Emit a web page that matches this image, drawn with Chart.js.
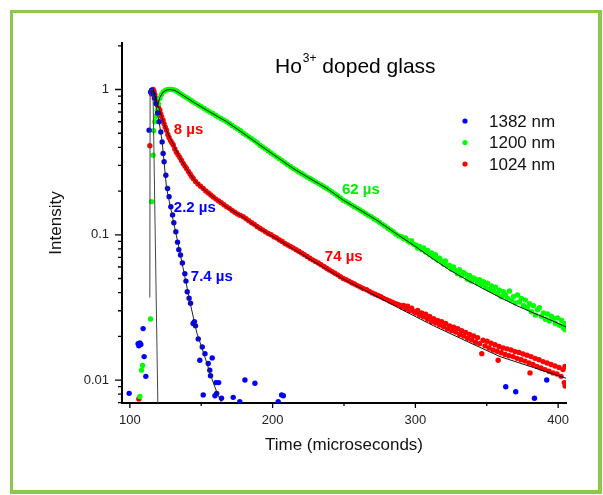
<!DOCTYPE html>
<html>
<head>
<meta charset="utf-8">
<script src="https://cdn.jsdelivr.net/npm/chart.js@4.4.0/dist/chart.umd.min.js"></script>
<style>
  html, body { margin: 0; padding: 0; background: #fff; }
  #frame { position: absolute; left: 10px; top: 10px; width: 592px; height: 484px; box-sizing: border-box;
           border: 3px solid #8cc84b; border-right-width: 4px; border-bottom-width: 4px; }
  #wrap { position: absolute; left: 0; top: 0; width: 603px; height: 495px; }
</style>
</head>
<body>
<div id="frame"></div>
<div id="wrap"><canvas id="decay"></canvas></div>
<script>
// ticks
var xTicks = [100, 150, 200, 250, 300, 350, 400];
var xLabels = [100, 200, 300, 400];
var yTicks = [0.007, 0.008, 0.009, 0.01, 0.02, 0.03, 0.04, 0.05, 0.06, 0.07, 0.08, 0.09,
              0.1, 0.2, 0.3, 0.4, 0.5, 0.6, 0.7, 0.8, 0.9, 1, 2];
var yLabels = [0.01, 0.1, 1];

// measured points [time, intensity]
var blue1382 = [[99.5,0.0081],[105.8,0.0178],[106.3,0.0172],[107,0.018],[107.7,0.0176],[109.3,0.0226],
  [110,0.0145],[111.2,0.0106],[113.5,0.525],[114.5,0.96],[115.2,0.99],[116.3,0.94],[117.2,0.87],
  [118.2,0.8],[119.4,0.69],[120.5,0.6],[121.7,0.51],[122.6,0.436],[123.3,0.363],[124,0.318],
  [125.2,0.257],[126.4,0.208],[127.5,0.183],[128.7,0.156],[129.9,0.137],[130.8,0.121],[132.2,0.105],
  [133.4,0.089],[134.3,0.079],[135.5,0.0725],[136.8,0.064],[138.5,0.054],[139.3,0.048],[140.2,0.0405],
  [141.5,0.0366],[142.5,0.0338],[144.3,0.0245],[145.2,0.0252],[146,0.0236],[147.9,0.0192],[149,0.0137],
  [150.7,0.0169],[151.4,0.0079],[152.6,0.0152],[154.9,0.013],[156,0.0117],[156.5,0.0107],[157.7,0.0142],
  [159.6,0.0078],[160.3,0.0096],[160.8,0.0081],[162.2,0.0096],[164.2,0.0075],[172.4,0.0076],[177,0.0071],
  [180.6,0.01],[187.6,0.0095],[203.9,0.0071],[206.3,0.0079],[207.5,0.0078],[363.3,0.009],[370.3,0.0083],
  [383.4,0.0075],[392,0.01]];

var green1200 = [[107,0.0077],[108.2,0.0117],[108.9,0.0126],[114.5,0.0263],[115.2,0.169],[116.3,0.353],
  [116.7,0.52],[117.5,0.6],[118.2,0.655],[119.2,0.72],[120,0.8],[121,0.87],[122,0.92],[123.3,0.96],
  [124.5,0.98],[126,0.995],[127.5,1.0],[129,1.0],[130.5,0.995],[132,0.985],[133.5,0.965],[135,0.94],
  [136.5,0.92],[138,0.9],[139.7,0.88],[141.3,0.86],[142.9,0.84],[144.4,0.82],[146.3,0.8],[148.2,0.78],
  [150.1,0.76],[152.1,0.74],[154,0.72],[156,0.7],[158,0.683],[160,0.665],[161.9,0.648],[163.9,0.632],
  [165.8,0.616],[167.8,0.6],[169.7,0.583],[171.6,0.566],[173.6,0.55],[175.5,0.535],[177.5,0.52],
  [179.4,0.5],[181.4,0.486],[183.3,0.472],[185.3,0.458],[187.2,0.445],[189.2,0.43],[191.1,0.414],
  [193,0.402],[195,0.39],[197,0.378],[198.9,0.366],[200.8,0.355],[202.8,0.344],[204.7,0.334],
  [206.7,0.323],[208.6,0.313],[210.5,0.304],[212.5,0.295],[214.4,0.286],[216.4,0.279],[218.3,0.271],
  [220.3,0.264],[222.2,0.257],[224.1,0.25],[226.1,0.244],[228,0.238],[230,0.232],[232,0.226],[234,0.22],
  [235.9,0.214],[237.8,0.209],[239.8,0.203],[241.7,0.197],[243.7,0.191],[245.6,0.185],[247.5,0.179],
  [249.5,0.173],[251.5,0.169],[253.4,0.165],[255.4,0.16],[257.3,0.156],[259.3,0.152],[261.2,0.148],
  [263.2,0.144],[265.1,0.14],[267.1,0.136],[269,0.133],[271,0.129],[272.9,0.126],[274.8,0.122],
  [276.8,0.118],[278.7,0.115],[280.7,0.111],[282.6,0.108],[284.5,0.105],[286.5,0.101],[288.4,0.098],
  [290.4,0.097],[291.8,0.094],[293.1,0.095],[294.6,0.091],[296,0.089],[297.3,0.091],[298.8,0.086],
  [300.2,0.085],[301.5,0.081],[303,0.083],[304.4,0.079],[305.8,0.081],[307.2,0.076],[308.6,0.078],
  [310,0.073],[311.3,0.075],[312.7,0.07],[314.1,0.073],[315.5,0.067],[316.9,0.069],[318.3,0.066],
  [319.7,0.063],[321.1,0.066],[322.5,0.061],[323.9,0.0615],[325.3,0.058],[326.7,0.06],[328.1,0.0565],
  [329.5,0.054],[330.9,0.0575],[332.3,0.0525],[333.7,0.055],[335.1,0.0535],[336.5,0.0495],[337.9,0.0525],
  [339.3,0.048],[340.7,0.0505],[342.1,0.0495],[343.5,0.0465],[344.9,0.049],[346.3,0.0455],[347.7,0.0475],
  [349.1,0.0435],[350.5,0.0465],[351.9,0.042],[353.3,0.0445],[354.7,0.041],[356.1,0.0435],[357.5,0.0395],
  [358.9,0.0415],[360.3,0.0375],[361.7,0.0405],[363.1,0.0385],[364.5,0.0365],[365.9,0.041],[367.3,0.0355],
  [368.7,0.0375],[370.1,0.034],[371.5,0.0385],[372.9,0.0345],[374.3,0.0365],[375.7,0.0325],[377.1,0.0355],
  [378.5,0.0315],[379.9,0.0335],[381.3,0.0295],[382.7,0.0325],[384.1,0.028],[385.5,0.0305],[386.9,0.0315],
  [388.3,0.0275],[389.7,0.029],[391.1,0.0262],[392.5,0.0285],[393.9,0.0255],[395.3,0.0275],[396.7,0.0265],
  [398.1,0.0245],[399.5,0.0268],[400.9,0.0238],[402.3,0.0258],[403.7,0.0228],[404.6,0.0245],[404.9,0.0222]];

var red1024 = [[106.3,0.0074],[114,0.41],[115.2,0.93],[115.8,0.98],[116.3,1.0],[116.9,0.97],[117.5,0.92],
  [118.1,0.87],[118.7,0.83],[119.4,0.78],[120.1,0.75],[121,0.72],[121.6,0.68],[122.3,0.65],[123.3,0.615],
  [124,0.58],[124.8,0.55],[125.7,0.525],[126.6,0.49],[127.5,0.465],[128.5,0.445],[129.4,0.43],[130.4,0.415],
  [131.5,0.39],[132.6,0.37],[133.8,0.355],[135,0.34],[136.2,0.325],[137.4,0.31],[138.6,0.297],[139.7,0.286],
  [141,0.273],[142.2,0.262],[143.3,0.252],[144.4,0.244],[146,0.233],[147.7,0.224],[149.5,0.216],
  [151.4,0.208],[153.2,0.2],[155,0.194],[156.7,0.188],[158.4,0.182],[160.3,0.176],[162.2,0.171],
  [164,0.166],[165.9,0.161],[167.8,0.156],[169.7,0.152],[171.6,0.147],[173.5,0.143],[175.4,0.139],
  [177.4,0.136],[179.4,0.133],[181.4,0.129],[183.3,0.125],[185.3,0.121],[187.2,0.118],[189.1,0.114],
  [191.1,0.111],[193,0.108],[195,0.105],[197,0.102],[198.9,0.1],[200.9,0.097],[202.8,0.095],[204.8,0.092],
  [206.7,0.09],[208.6,0.087],[210.6,0.085],[212.5,0.083],[214.4,0.081],[216.4,0.079],[218.3,0.077],
  [220.3,0.075],[222.2,0.073],[224.2,0.071],[226.1,0.069],[228,0.0672],[230,0.0655],[232,0.064],
  [233.9,0.0622],[235.9,0.0605],[237.8,0.0588],[239.7,0.0572],[241.7,0.0558],[243.6,0.0543],[245.6,0.053],
  [247.5,0.0515],[249.5,0.05],[251.5,0.049],[253.5,0.048],[255.4,0.0468],[257.4,0.0458],[259.4,0.0447],
  [261.4,0.0437],[263.4,0.0427],[265.8,0.0418],[267.8,0.0408],[269.8,0.0398],[271.8,0.039],[273.8,0.0382],
  [275.8,0.0374],[277.8,0.0365],[279.8,0.0358],[281.8,0.035],[283.8,0.0343],[285.8,0.0337],[287.6,0.0331],
  [289.2,0.0328],[290.4,0.0318],[291.8,0.0326],[293.2,0.031],[294.6,0.0322],[296,0.0301],[297.4,0.0312],
  [298.8,0.0296],[300.2,0.0289],[301.6,0.0301],[303,0.0279],[304.4,0.029],[305.8,0.0272],[307.2,0.0284],
  [308.6,0.0262],[310,0.0274],[311.4,0.0252],[312.8,0.0264],[314.2,0.0247],[315.6,0.0257],[317,0.0239],
  [318.4,0.0252],[319.8,0.0233],[321.2,0.0245],[322.6,0.0225],[324,0.0236],[325.4,0.0219],[326.8,0.0231],
  [328.2,0.0214],[329.6,0.0226],[331,0.0206],[332.4,0.0219],[333.8,0.0201],[335.2,0.0213],[336.6,0.0194],
  [338,0.0206],[339.4,0.0189],[340.8,0.0201],[342.2,0.0182],[343.6,0.0196],[345,0.0178],[346.5,0.0152],
  [347.4,0.0188],[348.8,0.0172],[350.2,0.0185],[351.6,0.0166],[353,0.0179],[354.4,0.0161],[355.8,0.0175],
  [357.2,0.0158],[358,0.0137],[358.6,0.017],[360,0.0154],[361.4,0.0166],[362.8,0.015],[364.2,0.0164],
  [365.6,0.0147],[367,0.0161],[368.4,0.0145],[369.8,0.0157],[371.2,0.0141],[372.6,0.0155],[374,0.0138],
  [375.4,0.0151],[376.8,0.0135],[378.2,0.0148],[379.6,0.0131],[380.3,0.0112],[381,0.0145],[382.4,0.0128],
  [383.8,0.0141],[385.2,0.0124],[386.6,0.0138],[388,0.0121],[389.4,0.0134],[390.8,0.0118],[392.2,0.0131],
  [393.6,0.0115],[395,0.0128],[396.4,0.0112],[397.8,0.0125],[399.2,0.011],[400.6,0.0122],[402,0.0106],
  [403.4,0.0118],[404.3,0.0096],[404.8,0.0124],[404.9,0.0091]];

// fitted curves and excitation pulse
var blueFit = [[115,1.0],[117,0.9],[120.5,0.6],[122.6,0.44],[125.7,0.21],[130.4,0.125],[134,0.085],
  [138.5,0.0515],[142.5,0.033],[147,0.021],[152,0.015],[157,0.0105],[161,0.0082],[164.5,0.0069]];
var greenFit = [[119,0.75],[121,0.88],[123.3,0.96],[126,0.995],[128,1.0],[131,0.99],[135,0.94],
  [144.4,0.82],[156,0.7],[167.8,0.6],[179.4,0.5],[191.1,0.414],[202.8,0.344],[214.4,0.286],[226.1,0.244],
  [237.8,0.209],[249.5,0.173],[261.2,0.148],[272.9,0.126],[284.5,0.105],[298.5,0.085],[312.5,0.068],
  [324.2,0.057],[335.9,0.049],[347.6,0.0425],[359.3,0.037],[371,0.0325],[382.6,0.029],[394.3,0.026],
  [405.5,0.0232]];
var redFit = [[116.3,1.0],[118.7,0.83],[121,0.71],[123.3,0.61],[125.7,0.52],[130.4,0.42],[135,0.34],
  [139.7,0.285],[144.4,0.243],[151.4,0.207],[158.4,0.182],[167.8,0.155],[179.4,0.132],[191.1,0.11],
  [202.8,0.094],[214.4,0.08],[226.1,0.068],[237.8,0.058],[249.5,0.0495],[265.8,0.041],[289.2,0.031],
  [312.5,0.0237],[335.9,0.0185],[359.3,0.0145],[382.6,0.0122],[405.5,0.0103]];
var pulse = [[114,0.037],[114.2,1.0],[116.2,1.0],[119.6,0.0069]];

var lifetimes = [
  { text: '8 µs', x: 130.8, y: 0.525, color: '#ff0000' },
  { text: '2.2 µs', x: 130.8, y: 0.153, color: '#0000ff' },
  { text: '7.4 µs', x: 142.7, y: 0.0513, color: '#0000ff' },
  { text: '62 µs', x: 248.6, y: 0.203, color: '#00ee00' },
  { text: '74 µs', x: 236.6, y: 0.0703, color: '#ff0000' }
];

var FONT = '"Liberation Sans", Arial, sans-serif';

function pts(arr) {
  return arr.map(function (p) { return { x: p[0], y: p[1] }; });
}

function dots(label, arr, color) {
  return { label: label, data: pts(arr), backgroundColor: color, borderWidth: 0,
           pointRadius: 2.7, showLine: false, order: 2, inLegend: true };
}

function fit(arr, color) {
  return { data: pts(arr), borderColor: color, borderWidth: 1, pointRadius: 0,
           showLine: true, tension: 0, order: 1 };
}

var extras = {
  id: 'extras',
  afterDraw: function (chart) {
    var ctx = chart.ctx;
    var xs = chart.scales.x, ys = chart.scales.y, area = chart.chartArea;
    ctx.save();

    // tick marks, pointing outwards
    ctx.strokeStyle = '#000';
    ctx.lineWidth = 1.3;
    ctx.beginPath();
    xTicks.forEach(function (v) {
      var px = xs.getPixelForValue(v);
      var len = xLabels.indexOf(v) >= 0 ? 5 : 3;
      ctx.moveTo(px, area.bottom);
      ctx.lineTo(px, area.bottom + len);
    });
    yTicks.forEach(function (v) {
      var py = ys.getPixelForValue(v);
      var len = yLabels.indexOf(v) >= 0 ? 7 : 4;
      ctx.moveTo(area.left, py);
      ctx.lineTo(area.left - len, py);
    });
    ctx.stroke();

    // lifetime labels
    ctx.font = 'bold 15px ' + FONT;
    ctx.textBaseline = 'middle';
    ctx.textAlign = 'left';
    lifetimes.forEach(function (a) {
      ctx.fillStyle = a.color;
      ctx.fillText(a.text, xs.getPixelForValue(a.x), ys.getPixelForValue(a.y));
    });

    // title with superscript
    ctx.fillStyle = '#000';
    ctx.textBaseline = 'alphabetic';
    var tx = area.left + 153, ty = area.top + 30;
    ctx.font = '21px ' + FONT;
    ctx.fillText('Ho', tx, ty);
    tx += ctx.measureText('Ho').width + 1;
    ctx.font = '12px ' + FONT;
    ctx.fillText('3+', tx, ty - 11);
    tx += ctx.measureText('3+').width;
    ctx.font = '21px ' + FONT;
    ctx.fillText(' doped glass', tx, ty);

    // legend
    var lx = area.right - 101, ly = area.top + 78;
    ctx.font = '17px ' + FONT;
    ctx.textBaseline = 'middle';
    chart.data.datasets.forEach(function (ds) {
      if (!ds.inLegend) return;
      ctx.fillStyle = ds.backgroundColor;
      ctx.beginPath();
      ctx.arc(lx, ly, 2.6, 0, Math.PI * 2);
      ctx.fill();
      ctx.fillStyle = '#111';
      ctx.fillText(ds.label, lx + 24, ly + 1);
      ly += 21.5;
    });
    ctx.restore();
  }
};

var ctx = document.getElementById('decay').getContext('2d');
var myChart = new Chart(ctx, {
  type: 'scatter',
  data: {
    datasets: [
      dots('1382 nm', blue1382, '#0000ff'),
      dots('1200 nm', green1200, '#00ff00'),
      dots('1024 nm', red1024, '#ff0000'),
      fit(blueFit, '#222'),
      fit(greenFit, '#111'),
      fit(redFit, '#111'),
      fit(pulse, '#444')
    ]
  },
  options: {
    responsive: true,
    maintainAspectRatio: false,
    animation: false,
    layout: { padding: { top: 43, right: 37, left: 0, bottom: 0 } },
    scales: {
      x: {
        type: 'linear',
        min: 94.5,
        max: 405.5,
        afterFit: function (s) { s.height = 92; },
        afterBuildTicks: function (s) { s.ticks = xTicks.map(function (v) { return { value: v }; }); },
        grid: { display: false, drawTicks: false },
        border: { display: true, color: '#000', width: 2 },
        ticks: {
          autoSkip: false, maxRotation: 0, padding: 10, color: '#222',
          font: { family: FONT, size: 13 },
          callback: function (v) { return xLabels.indexOf(v) >= 0 ? String(v) : ''; }
        },
        title: { display: true, text: 'Time (microseconds)', color: '#111',
                 font: { family: FONT, size: 17 }, padding: { top: 0, bottom: 39 } }
      },
      y: {
        type: 'logarithmic',
        min: 0.00695,
        max: 2.09,
        afterFit: function (s) { s.width = 122; },
        afterBuildTicks: function (s) { s.ticks = yTicks.map(function (v) { return { value: v }; }); },
        grid: { display: false, drawTicks: false },
        border: { display: true, color: '#000', width: 2 },
        ticks: {
          autoSkip: false, padding: 13, color: '#222',
          font: { family: FONT, size: 13 },
          callback: function (v) { return yLabels.indexOf(v) >= 0 ? String(v) : ''; }
        },
        title: { display: true, text: 'Intensity', color: '#111',
                 font: { family: FONT, size: 17 }, padding: { top: 46, bottom: 0 } }
      }
    },
    plugins: {
      legend: { display: false },
      tooltip: { enabled: false }
    }
  },
  plugins: [extras]
});
</script>
</body>
</html>
